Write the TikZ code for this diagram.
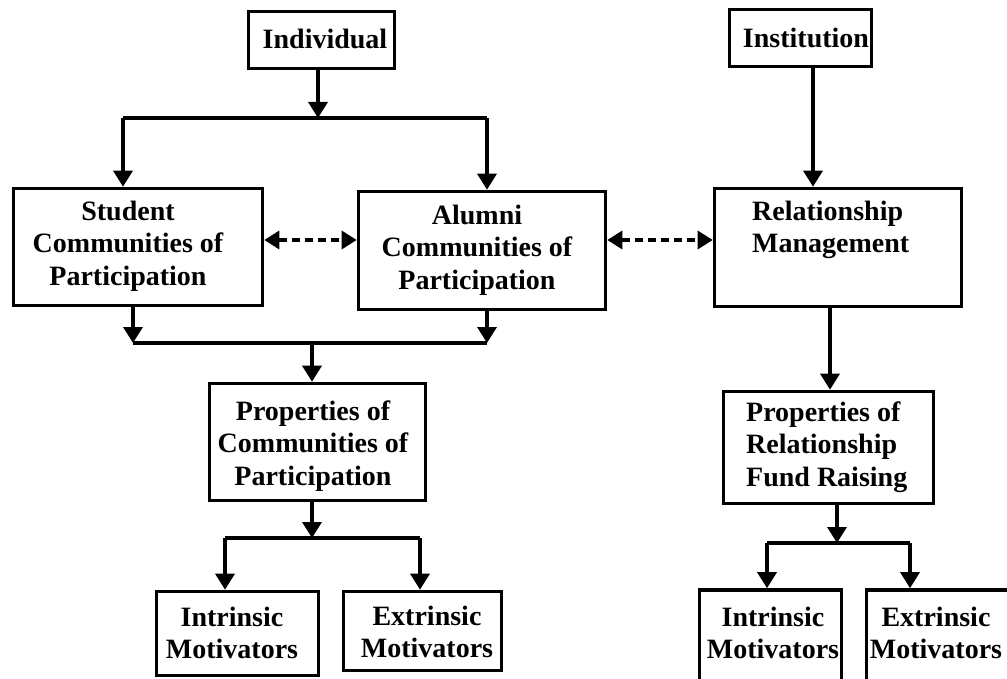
\documentclass[tikz,border=0pt]{standalone}
\usepackage{fontspec}
\setmainfont{Liberation Serif}
\usetikzlibrary{arrows.meta}
\begin{document}
\begin{tikzpicture}[x=1pt,y=-1pt,
  box/.style={draw, line width=3.6pt, inner sep=0pt},
  txt/.style={inner sep=0pt, font=\fontsize{28}{32.5}\selectfont\bfseries},
  link/.style={line width=3.4pt},
  flow/.style={line width=3.4pt, -{Triangle[width=19pt,length=16pt]}},
  both/.style={line width=3.2pt, dash pattern=on 8pt off 5pt,
    {Triangle[width=18pt,length=15pt]}-{Triangle[width=18pt,length=15pt]}}]
\useasboundingbox (0,0) rectangle (1007,679);
\fill[white] (0,0) rectangle (1007,679);
\clip (0,0) rectangle (1007,679);

% boxes
\node[box, minimum width=146pt, minimum height=57pt] (ind) at (321.5,40) {};
\node[box, minimum width=142pt, minimum height=57pt] (inst) at (800.5,38) {};
\node[box, minimum width=249pt, minimum height=117pt] (stu) at (138,247) {};
\node[box, minimum width=247pt, minimum height=118pt] (alu) at (482,250.5) {};
\node[box, minimum width=247pt, minimum height=118pt] (rel) at (838,247.5) {};
\node[box, minimum width=216pt, minimum height=117pt] (prop) at (317.5,442) {};
\node[box, minimum width=210pt, minimum height=112pt] (prop2) at (828.5,447.5) {};
\node[box, minimum width=162pt, minimum height=84pt] (int1) at (237.5,633.5) {};
\node[box, minimum width=158pt, minimum height=79pt] (ext1) at (422.5,631) {};
\node[box, minimum width=142pt, minimum height=110pt] (int2) at (770.5,645) {};
\node[box, minimum width=162pt, minimum height=110pt] (ext2) at (947.5,645) {};

% labels
\node[txt] (ind-t) at (325,39) {Individual};
\node[txt] (inst-t) at (806,38) {Institution};
\node[txt, align=center] (stu-t) at (128,246) {Student\\Communities of\\Participation};
\node[txt, align=center] (alu-t) at (477,250) {Alumni\\Communities of\\Participation};
\node[txt, align=left, anchor=west] (rel-t) at (752,230) {Relationship\\Management};
\node[txt, align=center] (prop-t) at (313,446) {Properties of\\Communities of\\Participation};
\node[txt, align=left, anchor=west] (prop2-t) at (746,447) {Properties of\\Relationship\\Fund Raising};
\node[txt, align=center] (int1-t) at (232,633) {Intrinsic\\Motivators};
\node[txt, align=center] (ext1-t) at (427,632) {Extrinsic\\Motivators};
\node[txt, align=center] (int2-t) at (773,633) {Intrinsic\\Motivators};
\node[txt, align=center] (ext2-t) at (936,633) {Extrinsic\\Motivators};

% branch points
\coordinate (j1) at (318,118);
\coordinate (j1L) at (123,118);
\coordinate (j1R) at (487,118);
\coordinate (j2L) at (133,343);
\coordinate (j2R) at (487,343);
\coordinate (j2) at (312,343);
\coordinate (j3) at (312,538);
\coordinate (j3L) at (225,538);
\coordinate (j3R) at (420,538);
\coordinate (r1) at (813,0);
\coordinate (r2) at (830,0);
\coordinate (j4) at (837,543);
\coordinate (j4L) at (767,543);
\coordinate (j4R) at (910,543);
\coordinate (dy) at (0,240);

% individual branch
\draw[flow] (ind.south -| j1) -- (j1);
\draw[link] (j1L) -- (j1R);
\draw[flow] (j1L) -- (j1L |- stu.north);
\draw[flow] (j1R) -- (j1R |- alu.north);
\draw[flow] (stu.south -| j2L) -- (j2L);
\draw[flow] (alu.south -| j2R) -- (j2R);
\draw[link] (j2L) -- (j2R);
\draw[flow] (j2) -- (j2 |- prop.north);
\draw[flow] (prop.south -| j3) -- (j3);
\draw[link] (j3L) -- (j3R);
\draw[flow] (j3L) -- (j3L |- int1.north);
\draw[flow] (j3R) -- (j3R |- ext1.north);

% institution branch
\draw[flow] (inst.south -| r1) -- (rel.north -| r1);
\draw[flow] (rel.south -| r2) -- (prop2.north -| r2);
\draw[flow] (prop2.south -| j4) -- (j4);
\draw[link] (j4L) -- (j4R);
\draw[flow] (j4L) -- (j4L |- int2.north);
\draw[flow] (j4R) -- (j4R |- ext2.north);

% two-way links between communities and management
\draw[both] (stu.east |- dy) -- (alu.west |- dy);
\draw[both] (alu.east |- dy) -- (rel.west |- dy);
\end{tikzpicture}
\end{document}
